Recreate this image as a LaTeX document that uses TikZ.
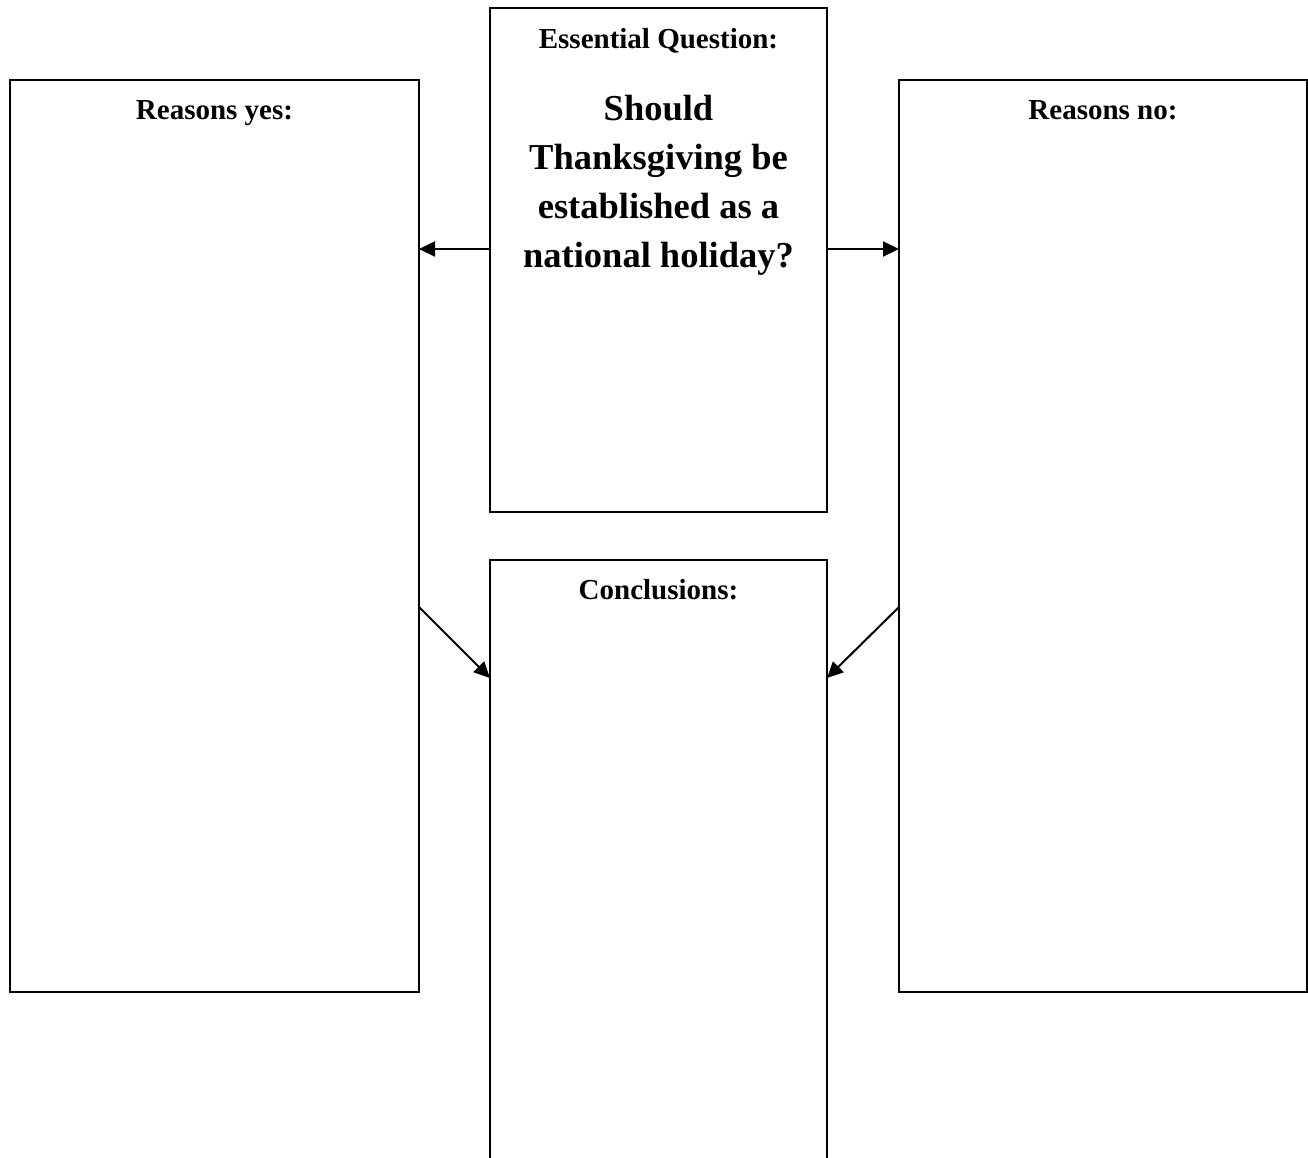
\documentclass[tikz,border=0pt]{standalone}
\usepackage{fontspec}
\setmainfont{Liberation Serif}
\usetikzlibrary{arrows.meta}
\begin{document}
\begin{tikzpicture}[x=1pt,y=-1pt,
  box/.style={draw,line width=2pt,inner sep=0pt,outer sep=0pt,fill=none},
  arr/.style={line width=2pt,-{Triangle[length=16pt,width=15pt]}},
  head/.style={font=\fontsize{29}{34}\selectfont\bfseries,inner sep=0pt,anchor=base},
  big/.style={font=\fontsize{36.5}{49}\selectfont\bfseries,align=center,inner sep=0pt}]
\useasboundingbox[fill=white] (0,0) rectangle (1308,1157);
\node[box,minimum width=409pt,minimum height=912pt] (L) at (214.5,536) {};
\node[box,minimum width=408pt,minimum height=912pt] (R) at (1103,536) {};
\node[box,minimum width=337pt,minimum height=504pt] (Q) at (658.5,260) {};
\begin{scope}
\clip (0,0) rectangle (1308,1157);
\node[box,minimum width=337pt,minimum height=640pt] (C) at (658.5,880) {};
\end{scope}
\node[head] (tL) at (214.5,119) {Reasons yes:};
\node[head] (tR) at (1103,119) {Reasons no:};
\node[head] (tQ) at (658.5,48) {Essential Question:};
\node[head] (tC) at (658.5,599) {Conclusions:};
\node[big,anchor=north] (qq) at (658.5,95) {Should\\Thanksgiving be\\established as a\\national holiday?};
\draw[arr] (Q.west |- 0,249) -- (L.east |- 0,249);
\draw[arr] (Q.east |- 0,249) -- (R.west |- 0,249);
\draw[arr] (L.east |- 0,607) -- (C.west |- 0,678);
\draw[arr] (R.west |- 0,607) -- (C.east |- 0,678);
\end{tikzpicture}
\end{document}
